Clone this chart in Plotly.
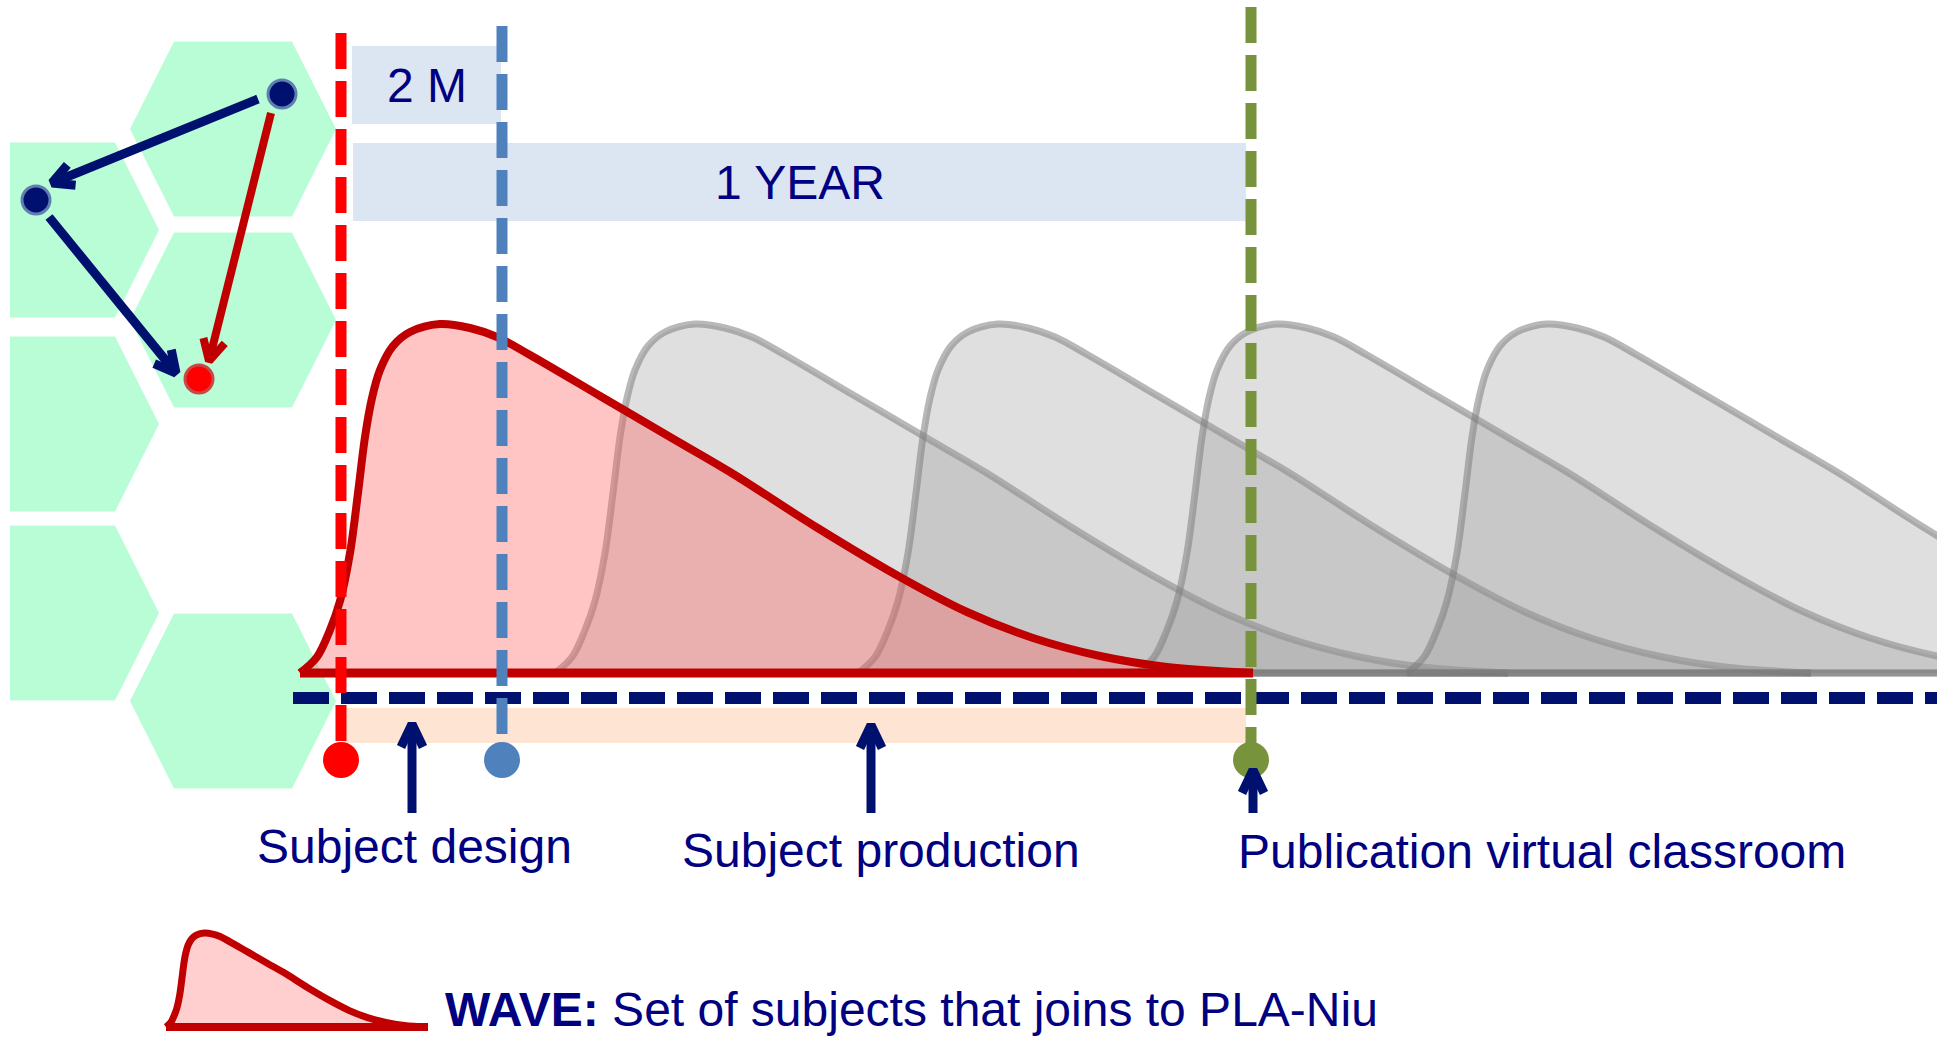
import numpy as np
import plotly.graph_objects as go

# ---------------- data (diagram units: px along the timeline, px height above the timeline) ----------------
# profile of one "wave" of subjects: distance from the wave start and height above the timeline
wave_offset = [0, 17, 30, 40, 50, 58, 65, 72, 80, 93, 110, 140, 170, 197, 230, 300,
               370, 430, 516, 600, 667, 733, 800, 867, 953]
wave_height = [0, 16, 43, 72, 120, 180, 236, 275, 303, 327, 341, 349, 345, 336, 318, 277,
               236, 201, 146, 96, 61, 35, 17, 6, 0]

highlight_wave_start = 300                   # the red wave
later_wave_starts = [555, 858, 1137, 1407]   # the grey waves that follow

# milestones (vertical dashed lines + dots)
milestone_x = [341, 502, 1251]
milestone_top = [640, 647, 666]
milestone_bottom = -87
milestone_colors = ["#ff0000", "#4f81bd", "#77933c"]

# phases (arrows + labels under the timeline)
phase_labels = ["Subject design", "Subject production", "Publication virtual classroom"]
phase_arrow_x = [412, 871, 1253]
phase_arrow_tip = [-51, -52, -97]
phase_arrow_tail = -140
phase_label_x = [414.5, 881, 1541.5]
phase_label_y = [-173.5, -177, -178]

# duration bands
duration_labels = ["2 M", "1 YEAR"]
duration_x0 = [352, 353]
duration_x1 = [501, 1246]
duration_y0 = [549, 452]
duration_y1 = [627, 530]

# production band under the timeline
band_x = [342, 1246]
band_y = [-70, -35]

timeline_y = -25
timeline_x = [293, 1937]

# hexagon grid (decoration, left)
hex_cx = [233, 233, 233, 56, 56, 56]
hex_cy = [544, 353, -28, 443, 249, 60]

# little network in the hexagons
node_x = [282, 36, 199]
node_y = [579, 473, 294]
node_colors = ["#00106e", "#00106e", "#ff0000"]
node_rings = ["#5f7fb0", "#5f7fb0", "#c84848"]
link_from = [(258, 574), (49, 456), (271, 560)]
link_to = [(52, 490), (176, 300), (209, 312)]
link_colors = ["#00106e", "#00106e", "#c00000"]
link_widths = [9, 9, 8]

# legend wave
legend_wave_x0, legend_wave_base = 166, -354
legend_wave_width, legend_wave_peak = 262, 94
legend_text_x, legend_text_y = 443, -336.5
legend_text = "<b>WAVE:</b> Set of subjects that joins to PLA-Niu"

# ---------------- styles ----------------
NAVY = "#00106e"
TEXT = "#000080"
FONT = "Liberation Sans, Arial, sans-serif"
FS = 48
DASH = "36px,12px"


def hexagon(cx, cy, R=103, a=59, b=87.5, xmin=10):
    xs = np.array([cx - R, cx - a, cx + a, cx + R, cx + a, cx - a, cx - R], dtype=float)
    ys = [cy, cy + b, cy + b, cy, cy - b, cy - b, cy]
    return np.maximum(xs, xmin), ys


def arrow_xy(x0, y0, x1, y1, head_len, head_half):
    dx, dy = x1 - x0, y1 - y0
    L = np.hypot(dx, dy)
    ux, uy = dx / L, dy / L
    px, py = -uy, ux
    bx, by = x1 - ux * head_len, y1 - uy * head_len
    xs = [x0, x1 - ux * 4, None, bx + px * head_half, x1, bx - px * head_half]
    ys = [y0, y1 - uy * 4, None, by + py * head_half, y1, by - py * head_half]
    return xs, ys


fig = go.Figure()

# hexagons
for cx, cy in zip(hex_cx, hex_cy):
    hx, hy = hexagon(cx, cy)
    fig.add_trace(go.Scatter(x=hx, y=hy, mode="lines", fill="toself", fillcolor="#b9fdd7",
                             line=dict(width=0, color="rgba(0,0,0,0)")))

# duration boxes
for x0, x1, y0, y1 in zip(duration_x0, duration_x1, duration_y0, duration_y1):
    fig.add_trace(go.Scatter(x=[x0, x1, x1, x0, x0], y=[y0, y0, y1, y1, y0], mode="lines",
                             fill="toself", fillcolor="#dce6f2", line=dict(width=0, color="rgba(0,0,0,0)")))

# production band
fig.add_trace(go.Scatter(x=[band_x[0], band_x[1], band_x[1], band_x[0], band_x[0]],
                         y=[band_y[0], band_y[0], band_y[1], band_y[1], band_y[0]], mode="lines",
                         fill="toself", fillcolor="#fde4d3", line=dict(width=0, color="rgba(0,0,0,0)")))

off = np.array(wave_offset, dtype=float)
hgt = np.array(wave_height, dtype=float)

# grey waves
for s in later_wave_starts:
    fig.add_trace(go.Scatter(x=s + off, y=hgt, mode="lines", fill="tozeroy",
                             fillcolor="rgba(150,150,150,0.30)",
                             line=dict(color="rgba(125,125,125,0.55)", width=7, shape="spline", smoothing=1)))
    fig.add_trace(go.Scatter(x=[s, s + off[-1]], y=[0, 0], mode="lines",
                             line=dict(color="rgba(120,120,120,0.55)", width=7)))

# red wave
s = highlight_wave_start
fig.add_trace(go.Scatter(x=s + off, y=hgt, mode="lines", fill="tozeroy",
                         fillcolor="rgba(255,95,95,0.36)",
                         line=dict(color="#c00000", width=8, shape="spline", smoothing=1)))
fig.add_trace(go.Scatter(x=[s, s + off[-1]], y=[0, 0], mode="lines",
                         line=dict(color="#c00000", width=9)))

# timeline
fig.add_trace(go.Scatter(x=timeline_x, y=[timeline_y, timeline_y], mode="lines",
                         line=dict(color=NAVY, width=12, dash=DASH)))

# milestone dashed lines and dots
for x, top, c in zip(milestone_x, milestone_top, milestone_colors):
    fig.add_trace(go.Scatter(x=[x, x], y=[top, milestone_bottom], mode="lines",
                             line=dict(color=c, width=11, dash=DASH)))
fig.add_trace(go.Scatter(x=milestone_x, y=[milestone_bottom] * 3, mode="markers",
                         marker=dict(size=36, color=milestone_colors, line=dict(width=0))))

# phase arrows
for x, tip in zip(phase_arrow_x, phase_arrow_tip):
    ax, ay = arrow_xy(x, phase_arrow_tail, x, tip, 23, 11)
    fig.add_trace(go.Scatter(x=ax, y=ay, mode="lines", line=dict(color=NAVY, width=9)))

# network links and nodes
for (x0, y0), (x1, y1), c, w in zip(link_from, link_to, link_colors, link_widths):
    ax, ay = arrow_xy(x0, y0, x1, y1, 21, 11)
    fig.add_trace(go.Scatter(x=ax, y=ay, mode="lines", line=dict(color=c, width=w)))
fig.add_trace(go.Scatter(x=node_x, y=node_y, mode="markers",
                         marker=dict(size=28, color=node_colors, line=dict(width=3, color=node_rings))))

# legend wave
lx = legend_wave_x0 + off * legend_wave_width / off[-1]
ly = legend_wave_base + hgt * legend_wave_peak / hgt.max()
fig.add_trace(go.Scatter(x=[lx[0], lx[-1]], y=[legend_wave_base, legend_wave_base], mode="lines",
                         line=dict(color="#c00000", width=8)))
fig.add_trace(go.Scatter(x=lx, y=ly, mode="lines", fill="tonexty",
                         fillcolor="rgba(255,95,95,0.30)",
                         line=dict(color="#c00000", width=7, shape="spline", smoothing=1)))

# texts
annotations = []
for lab, x0, x1, y0, y1 in zip(duration_labels, duration_x0, duration_x1, duration_y0, duration_y1):
    annotations.append(dict(x=(x0 + x1) / 2, y=(y0 + y1) / 2, text=lab, showarrow=False,
                            xanchor="center", yanchor="middle", font=dict(family=FONT, size=FS, color=TEXT)))
for lab, x, y in zip(phase_labels, phase_label_x, phase_label_y):
    annotations.append(dict(x=x, y=y, text=lab, showarrow=False, xanchor="center", yanchor="middle",
                            font=dict(family=FONT, size=FS, color=TEXT)))
annotations.append(dict(x=legend_text_x, y=legend_text_y, text=legend_text, showarrow=False,
                        xanchor="left", yanchor="middle", font=dict(family=FONT, size=FS, color=TEXT)))

fig.update_layout(
    width=1937, height=1037, margin=dict(l=0, r=0, t=0, b=0),
    paper_bgcolor="white", plot_bgcolor="white", showlegend=False, hovermode=False,
    xaxis=dict(range=[0, 1937], visible=False, fixedrange=True),
    yaxis=dict(range=[-364, 673], visible=False, fixedrange=True),
    annotations=annotations,
)

fig.write_html("out.html")
